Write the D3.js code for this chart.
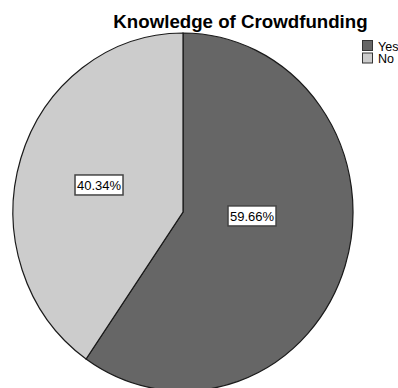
<!DOCTYPE html>
<html>
<head>
<meta charset="utf-8">
<script src="https://cdn.jsdelivr.net/npm/d3@7/dist/d3.min.js"></script>
<style>
  html, body { margin: 0; padding: 0; background: #fff; }
  svg { display: block; }
</style>
</head>
<body>
<svg id="chart" width="398" height="388"></svg>
<script>
// ---- data ----
const categories = ["Yes", "No"];
const percentages = [59.66, 40.34];
const sliceColors = ["#666666", "#cccccc"];
const titleText = "Knowledge of Crowdfunding";

// ---- layout ----
const W = 398, H = 388;
const cx = 183, cy = 212, rx = 170, ry = 179;

const svg = d3.select("#chart");

const data = categories.map((c, i) => ({ cat: c, value: percentages[i], color: sliceColors[i] }));

const pie = d3.pie().sort(null).value(d => d.value);
const arcs = pie(data);
const arc = d3.arc().innerRadius(0).outerRadius(rx);

const g = svg.append("g")
  .attr("transform", `translate(${cx},${cy}) scale(1,${ry / rx})`);

g.selectAll("path")
  .data(arcs)
  .join("path")
  .attr("d", arc)
  .attr("fill", d => d.data.color)
  .attr("stroke", "#1a1a1a")
  .attr("stroke-width", 1.2)
  .attr("vector-effect", "non-scaling-stroke");

// label positions (fraction of radii, relative to center)
const labelPos = { "Yes": [0.406, 0.022], "No": [-0.494, -0.151] };
const fmt = d => d.toFixed(2) + "%";

const labels = svg.append("g").selectAll("g")
  .data(arcs)
  .join("g")
  .attr("transform", d => {
    const p = labelPos[d.data.cat];
    return `translate(${cx + p[0] * rx},${cy + p[1] * ry})`;
  });

labels.each(function(d) {
  const sel = d3.select(this);
  sel.append("rect")
    .attr("x", -24)
    .attr("y", -10)
    .attr("width", 48)
    .attr("height", 20)
    .attr("fill", "#fff")
    .attr("stroke", "#444")
    .attr("stroke-width", 1.5);
  sel.append("text")
    .attr("text-anchor", "middle")
    .attr("dominant-baseline", "central")
    .attr("y", 0.5)
    .attr("font-family", "Liberation Sans, Arial, sans-serif")
    .attr("font-size", 13)
    .attr("fill", "#000")
    .text(fmt(d.data.value));
});

// title
svg.append("text")
  .attr("x", 240.5)
  .attr("y", 28)
  .attr("text-anchor", "middle")
  .attr("font-family", "Liberation Sans, Arial, sans-serif")
  .attr("font-weight", "bold")
  .attr("font-size", 18.7)
  .attr("fill", "#000")
  .text(titleText);

// legend
const legend = svg.append("g").attr("transform", "translate(362,40)");
const li = legend.selectAll("g")
  .data(data)
  .join("g")
  .attr("transform", (d, i) => `translate(0,${i * 12.5})`);
li.append("rect")
  .attr("x", 0.5).attr("y", 0.5)
  .attr("width", 10).attr("height", 10)
  .attr("fill", d => d.color)
  .attr("stroke", "#333")
  .attr("stroke-width", 1);
li.append("text")
  .attr("x", 16)
  .attr("y", 10.5)
  .attr("font-family", "Liberation Sans, Arial, sans-serif")
  .attr("font-size", 12.5)
  .attr("fill", "#000")
  .text(d => d.cat);
</script>
</body>
</html>
